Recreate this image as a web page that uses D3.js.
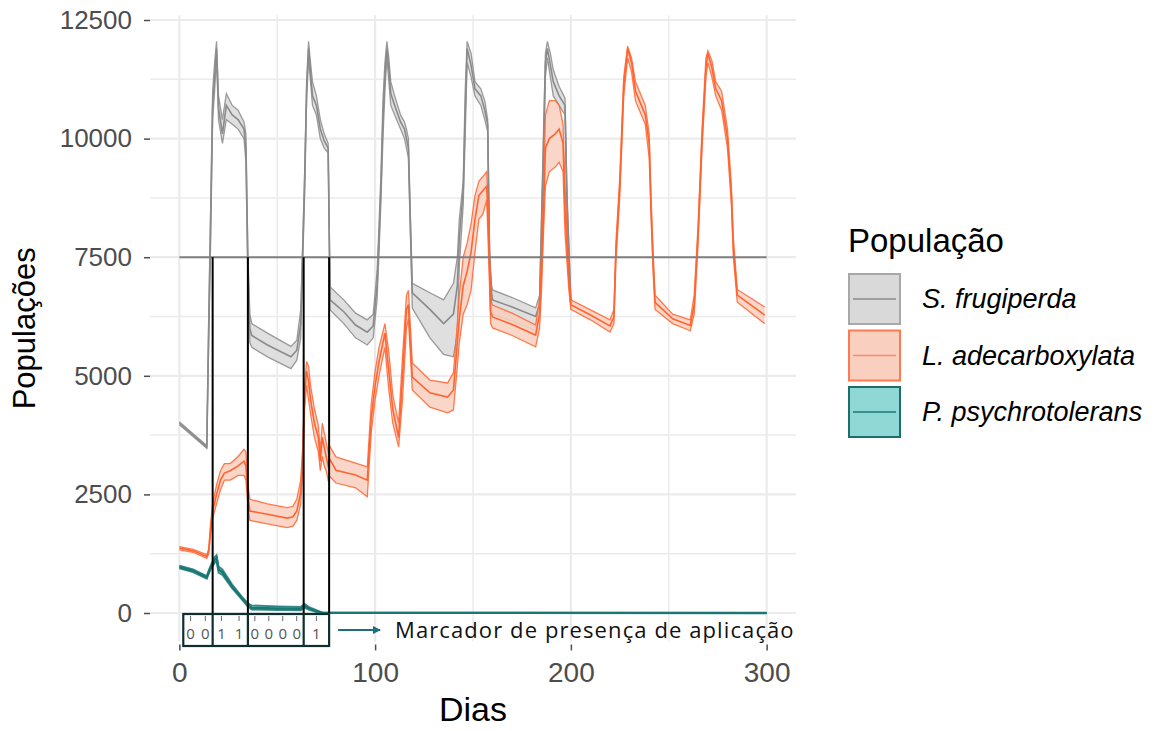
<!DOCTYPE html>
<meta charset="utf-8">
<style>
body { margin: 0; background: #fff; }
svg { font-family: "Liberation Sans", Arial, sans-serif; }
.grid line { stroke: #ebebeb; }
</style>
<body>
<script src="https://d3js.org/d3.v7.min.js"></script>
<script>

var width = 1172,
    height = 731;

// rows are [day, lower, mean, upper]
var sFrugiperda = [
  [0,3970,4000,4030],[7,3720,3750,3780],[14,3470,3500,3530],[15,5700,6000,6300],
  [16,7900,8300,8600],[17,10400,10700,11000],[18,11000,11300,11600],[19,11700,11900,12050],
  [20,10400,10650,10900],[22,9900,10100,10400],[24,10400,10700,10950],[27,10300,10500,10700],
  [30,10200,10400,10600],[33,10000,10200,10350],[34,9500,9800,10100],[35,7000,7300,7600],
  [36,5700,6000,6300],[37,5600,5850,6100],[45,5400,5650,5900],[57,5150,5400,5620],
  [60,5330,5540,5750],[62,5800,6100,6400],[63,7400,7600,7800],[64,8800,9100,9300],
  [65,10800,11000,11200],[66,11700,11900,12050],[67,11200,11400,11600],[68,10700,10900,11200],
  [70,10500,10700,10900],[72,10000,10200,10400],[74,9800,9950,10100],[76,9700,9800,9900],
  [77,6390,6600,6870],[84,6100,6350,6600],[90,5800,6070,6320],[96,5650,5920,6180],
  [99,5800,6050,6300],[101,6600,6900,7200],[102,7600,7900,8200],[103,8700,9000,9300],
  [104,10000,10400,10800],[105,11000,11300,11600],[106,11700,11900,12050],[107,11200,11500,11700],
  [108,10700,10950,11200],[110,10500,10700,10900],[113,10200,10350,10500],[115,10000,10200,10350],
  [116,9800,10000,10200],[117,9600,9800,10000],[118,8000,8200,8400],[119,6430,6750,6950],
  [128,5800,6400,6750],[135,5450,6100,6600],[140,5400,6300,6950],[142,5900,6900,7500],
  [143,7300,7900,8300],[145,8600,8900,9100],[146,10000,10500,11000],[147,11600,11900,12050],
  [149,11300,11550,11800],[151,10900,11050,11200],[154,10700,10900,11050],[156,10400,10600,10800],
  [157.5,10150,10300,10400],[158.5,7200,7400,7600],[159.5,6500,6750,6900],[160,6300,6600,6810],
  [170,6150,6450,6650],[182,5950,6250,6430],[184,6300,6500,6700],[185,7800,8100,8400],
  [186,9500,9800,10100],[187,11300,11600,11800],[188,11700,11900,12050],[189.5,11300,11550,11800],
  [191,10900,11200,11450],[194,10700,10900,11100],[197,10500,10700,10850],[198,8500,8700,8900],
  [200,6400,6500,6600]
];

var lAdecarboxylata = [
  [0,1330,1370,1400],[7,1280,1310,1340],[14,1150,1190,1230],[15,1250,1300,1350],
  [16,1700,1800,1900],[17,2000,2150,2300],[19,2300,2500,2700],[21,2600,2800,3000],
  [23,2800,2950,3150],[26,2800,3000,3150],[30,2900,3100,3300],[33,2900,3200,3450],
  [34,2800,3100,3400],[35,2300,2500,2700],[36,1950,2150,2400],[45,1880,2080,2300],
  [55,1800,2000,2220],[58,1830,2030,2250],[60,1950,2150,2400],[62,2300,2550,2800],
  [63,3000,3300,3500],[64,4300,4600,4800],[65,4800,5100,5300],[66,4500,4900,5200],
  [67,4200,4500,4800],[69,3700,4000,4300],[71,3400,3700,3950],[72,3000,3200,3400],
  [73,3300,3700,4000],[74,3100,3500,3800],[75,3000,3300,3600],[76,2800,3100,3400],
  [77,2870,3230,3500],[80,2740,3010,3290],[90,2640,2910,3160],[96,2450,2800,3080],
  [98,3800,4100,4400],[100,4500,4800,5100],[102,5000,5300,5600],[105,5600,5900,6100],
  [107,4700,5100,5500],[109,4000,4300,4600],[112,3500,3700,4000],[114,4500,5000,5400],
  [116,6000,6400,6700],[117,6200,6500,6800],[119,4700,4970,5270],[128,4340,4640,4910],
  [137,4220,4550,4850],[140,4280,4700,5060],[142,5200,5700,6100],[143,5700,6200,6700],
  [145,6300,6900,7500],[147,6500,7200,7800],[149,6800,7600,8200],[151,7600,8300,8800],
  [153,8300,8800,9100],[155,8400,8900,9200],[157,8700,9000,9300],[158,7500,8000,8500],
  [159,6100,6350,6600],[160,6010,6240,6490],[170,5850,6080,6320],[182,5610,5860,6070],
  [184,6000,6300,6600],[185,6800,7200,7600],[186,8000,8400,8800],[187,9000,9800,10500],
  [189,9300,10000,10800],[192,9400,10100,10800],[194,9500,10200,10700],[196,9300,9900,10300],
  [197,8000,8500,9000],[199,6800,7000,7200],[200,6400,6500,6600],[210,6180,6280,6390],
  [220,5920,6050,6180],[222,6100,6250,6400],[223,7400,7600,7800],[225,8800,9000,9200],
  [227,10900,11100,11300],[229,11700,11900,11950],[231,11400,11600,11700],[233,10800,11000,11200],
  [235,10600,10800,11000],[238,10300,10500,10700],[240,9600,9900,10100],[241,8300,8500,8700],
  [242,7200,7400,7600],[243,6400,6550,6700],[252,6100,6200,6300],[261,5950,6060,6180],
  [263,6300,6500,6700],[265,7800,8000,8200],[267,9800,10000,10200],[269,11300,11500,11700],
  [270,11600,11800,11850],[272,11300,11500,11650],[274,10900,11050,11200],[277,10600,10800,11000],
  [280,9800,10000,10200],[282,8600,8800,9000],[283,7500,7700,7900],[285,6550,6700,6820],
  [299,6100,6280,6450]
];

var pPsychrotolerans = [
  [0,940,970,1000],[7,860,890,920],[14,720,750,780],[15,830,860,900],
  [16,920,960,1000],[18,1050,1120,1180],[19,1100,1160,1220],[20,850,920,980],
  [22,800,860,920],[27,520,560,600],[32,280,310,340],[35,130,170,210],
  [37,70,110,160],[50,60,95,140],[62,55,90,130],[64,110,150,190],
  [66,70,100,130],[70,20,40,60],[73,0,5,10],[300,0,0,0]
];

var seriesNames = ["S. frugiperda", "L. adecarboxylata", "P. psychrotolerans"];
var seriesData = [sFrugiperda, lAdecarboxylata, pPsychrotolerans];
var lineColors = ["#8a8a8a", "#ff6430", "#1b7774"];
var fillColors = ["#d9d9d9", "#f9cfc0", "#8fd8d6"];
var keyBorders = ["#a8a8a8", "#ff7a50", "#1d6e6c"];

var xTicks = [0, 100, 200, 300];
var yTicks = [0, 2500, 5000, 7500, 10000, 12500];
var threshold = 7500;

// application marker: segment limits (days) and the codes inside them
var markerDays = [2, 17, 35, 63.5, 76.5];
var markerCodes = [["0", "0"], ["1", "1"], ["0", "0", "0", "0"], ["1"]];
var markerText = "Marcador de presença de aplicação";

var x = d3.scaleLinear().domain([-15, 315]).range([150, 796]);
var y = d3.scaleLinear().domain([0, 12500]).range([613, 20]);

var panelTop = y(12600), panelBottom = y(-600);

var svg = d3.select("body").append("svg")
    .attr("width", width)
    .attr("height", height);

// grid
var grid = svg.append("g").attr("class", "grid");
var xMinor = d3.range(50, 300, 100), yMinor = d3.range(1250, 12500, 2500);
grid.selectAll(".ymin").data(yMinor).enter().append("line")
    .attr("x1", x.range()[0]).attr("x2", x.range()[1])
    .attr("y1", y).attr("y2", y).attr("stroke-width", 1.5);
grid.selectAll(".xmin").data(xMinor).enter().append("line")
    .attr("y1", panelTop).attr("y2", panelBottom)
    .attr("x1", x).attr("x2", x).attr("stroke-width", 1.5);
grid.selectAll(".ymaj").data(yTicks).enter().append("line")
    .attr("x1", x.range()[0]).attr("x2", x.range()[1])
    .attr("y1", y).attr("y2", y).attr("stroke-width", 2.2);
grid.selectAll(".xmaj").data(xTicks).enter().append("line")
    .attr("y1", panelTop).attr("y2", panelBottom)
    .attr("x1", x).attr("x2", x).attr("stroke-width", 2.2);

// axes
var yAxis = svg.append("g")
    .attr("transform", "translate(" + x.range()[0] + ",0)")
    .call(d3.axisLeft(y).tickValues(yTicks).tickFormat(d3.format("d")).tickSize(6).tickPadding(12));
var xAxis = svg.append("g")
    .attr("transform", "translate(0," + (panelBottom + 3) + ")")
    .call(d3.axisBottom(x).tickValues(xTicks).tickFormat(d3.format("d")).tickSize(6).tickPadding(12));
[yAxis, xAxis].forEach(function(ax) {
  ax.attr("font-family", null);
  ax.select(".domain").remove();
  ax.selectAll(".tick line").attr("stroke", "#4d4d4d").attr("stroke-width", 1.5);
  ax.selectAll(".tick text").attr("fill", "#4d4d4d");
});
yAxis.attr("font-size", 26);
xAxis.attr("font-size", 28);

svg.append("text")
    .attr("transform", "translate(35," + ((panelTop + panelBottom) / 2) + ") rotate(-90)")
    .attr("text-anchor", "middle")
    .attr("font-size", 31)
    .attr("fill", "#000")
    .text("Populações");

svg.append("text")
    .attr("x", (x.range()[0] + x.range()[1]) / 2)
    .attr("y", 721)
    .attr("text-anchor", "middle")
    .attr("font-size", 34)
    .attr("fill", "#000")
    .text("Dias");

// ribbons + lines
var area = d3.area()
    .x(function(d) { return x(d[0]); })
    .y0(function(d) { return y(d[1]); })
    .y1(function(d) { return y(d[3]); });

function lineAt(i) {
  return d3.line()
    .x(function(d) { return x(d[0]); })
    .y(function(d) { return y(d[i]); });
}

var plot = svg.append("g");
seriesData.forEach(function(rows, s) {
  var g = plot.append("g");
  g.append("path")
      .datum(rows)
      .attr("fill", fillColors[s])
      .attr("fill-opacity", s === 2 ? 1 : 0.85)
      .attr("d", area);
  [1, 3].forEach(function(i) {
    g.append("path")
        .datum(rows)
        .attr("fill", "none")
        .attr("stroke", lineColors[s])
        .attr("stroke-width", s === 2 ? 1.8 : 1.3)
        .attr("stroke-opacity", 0.85)
        .attr("d", lineAt(i));
  });
  g.append("path")
      .datum(rows)
      .attr("fill", "none")
      .attr("stroke", lineColors[s])
      .attr("stroke-width", s === 2 ? 2.4 : 1.6)
      .attr("d", lineAt(2));
});

// threshold line
plot.append("line")
    .attr("x1", x(0)).attr("x2", x(300))
    .attr("y1", y(threshold)).attr("y2", y(threshold))
    .attr("stroke", "#808080")
    .attr("stroke-width", 2);

// application marker
var boxTop = y(0) + 1, boxBottom = boxTop + 32;
var mk = svg.append("g");

mk.selectAll(".vline").data(markerDays.slice(1)).enter().append("line")
    .attr("x1", x).attr("x2", x)
    .attr("y1", y(threshold)).attr("y2", boxTop)
    .attr("stroke", "#000")
    .attr("stroke-width", 2);

mk.append("rect")
    .attr("x", x(markerDays[0]))
    .attr("y", boxTop)
    .attr("width", x(markerDays[markerDays.length - 1]) - x(markerDays[0]))
    .attr("height", boxBottom - boxTop)
    .attr("fill", "#fff")
    .attr("stroke", "#0f2e30")
    .attr("stroke-width", 2.2);

mk.selectAll(".sep").data(markerDays.slice(1, -1)).enter().append("line")
    .attr("x1", x).attr("x2", x)
    .attr("y1", boxTop).attr("y2", boxBottom)
    .attr("stroke", "#0f2e30")
    .attr("stroke-width", 2.2);

markerCodes.forEach(function(codes, k) {
  var x0 = x(markerDays[k]), x1 = x(markerDays[k + 1]);
  var step = (x1 - x0) / codes.length;
  codes.forEach(function(c, j) {
    var cx = x0 + step * (j + 0.5);
    mk.append("line")
        .attr("x1", cx).attr("x2", cx)
        .attr("y1", boxTop + 2).attr("y2", boxTop + 7)
        .attr("stroke", "#666")
        .attr("stroke-width", 1);
    mk.append("text")
        .attr("x", cx)
        .attr("y", boxBottom - 7)
        .attr("text-anchor", "middle")
        .attr("font-family", "Open Sans, sans-serif")
        .attr("font-size", 15)
        .attr("fill", "#555")
        .text(c);
  });
});

svg.append("defs").append("marker")
    .attr("id", "arrow")
    .attr("viewBox", "0 0 10 10")
    .attr("refX", 9).attr("refY", 5)
    .attr("markerWidth", 4).attr("markerHeight", 4)
    .attr("orient", "auto")
  .append("path")
    .attr("d", "M0,0L10,5L0,10z")
    .attr("fill", "#1f6d80");

var arrowY = (boxTop + boxBottom) / 2;
mk.append("line")
    .attr("x1", x(markerDays[markerDays.length - 1]) + 9)
    .attr("x2", x(markerDays[markerDays.length - 1]) + 51)
    .attr("y1", arrowY).attr("y2", arrowY)
    .attr("stroke", "#1f6d80")
    .attr("stroke-width", 2)
    .attr("marker-end", "url(#arrow)");

mk.append("text")
    .attr("x", 395)
    .attr("y", arrowY + 8)
    .attr("font-family", "Open Sans, Noto Sans, sans-serif")
    .attr("font-size", 22)
    .attr("letter-spacing", 1.1)
    .attr("fill", "#111")
    .text(markerText);

// legend
var legend = svg.append("g").attr("transform", "translate(848,0)");
legend.append("text")
    .attr("x", 0).attr("y", 252)
    .attr("font-size", 33)
    .attr("fill", "#000")
    .text("População");

var keys = legend.selectAll(".key").data(seriesNames).enter().append("g")
    .attr("transform", function(d, i) { return "translate(0," + (273 + i * 56.5) + ")"; });
keys.append("rect")
    .attr("x", 1).attr("y", 1)
    .attr("width", 51).attr("height", 50)
    .attr("fill", function(d, i) { return fillColors[i]; })
    .attr("stroke", function(d, i) { return keyBorders[i]; })
    .attr("stroke-width", 2);
keys.append("line")
    .attr("x1", 5).attr("x2", 48)
    .attr("y1", 26).attr("y2", 26)
    .attr("stroke", function(d, i) { return i === 1 ? "#ff8a60" : lineColors[i]; })
    .attr("stroke-width", 1.6);
keys.append("text")
    .attr("x", 74).attr("y", 35)
    .attr("font-size", 27)
    .attr("font-style", "italic")
    .attr("fill", "#000")
    .text(function(d) { return d; });

</script>
</body>
